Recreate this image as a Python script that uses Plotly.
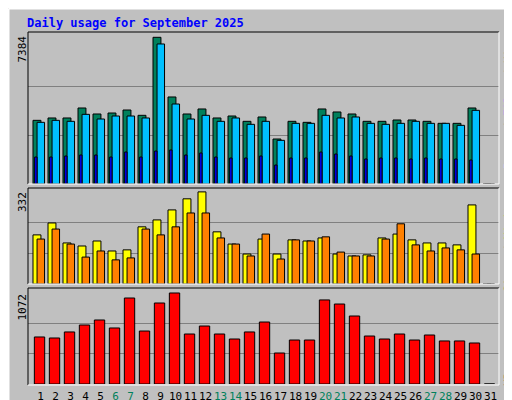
import plotly.graph_objects as go

W, H = 512, 400

days = list(range(1, 32))
hits = [3205, 3323, 3323, 3826, 3524, 3574, 3725, 3457, 7384, 4380,
        3524, 3776, 3323, 3423, 3155, 3373, 2265, 3155, 3104, 3776,
        3625, 3524, 3155, 3155, 3222, 3222, 3155, 3054, 3054, 3826, 0]
files = [3104, 3205, 3155, 3507, 3272, 3423, 3423, 3323, 7048, 4027,
         3272, 3457, 3155, 3323, 3004, 3155, 2198, 3054, 3054, 3457,
         3323, 3373, 3054, 3004, 3054, 3155, 3054, 3054, 2953, 3708, 0]
pages = [1359, 1359, 1410, 1460, 1460, 1359, 1611, 1359, 1661, 1712,
         1460, 1561, 1359, 1309, 1309, 1410, 956, 1309, 1309, 1611,
         1510, 1410, 1259, 1309, 1309, 1259, 1309, 1259, 1259, 1208, 0]
sites = [177, 220, 148, 137, 155, 119, 123, 206, 231, 267,
         307, 332, 188, 144, 108, 162, 108, 159, 155, 166,
         108, 101, 105, 166, 180, 159, 148, 148, 141, 285, 0]
visits = [162, 198, 144, 97, 119, 87, 94, 198, 177, 206,
          256, 256, 166, 144, 101, 180, 90, 159, 155, 170,
          115, 101, 101, 162, 217, 141, 119, 130, 123, 108, 0]
kbytes = [554, 542, 613, 695, 754, 660, 1013, 624, 954, 1072,
          589, 683, 589, 530, 613, 730, 365, 518, 518, 990,
          942, 801, 565, 530, 589, 518, 577, 507, 507, 483, 0]
weekend = [6, 7, 13, 14, 20, 21, 27, 28]

MONO = "DejaVu Sans Mono"
GREEN = "#00805C"

def bars(vals, color, offset, width, xa, ya):
    return go.Bar(x=days, y=vals, offset=offset, width=width, xaxis=xa, yaxis=ya,
                  marker=dict(color=color, line=dict(color="black", width=1)),
                  showlegend=False, hoverinfo="skip")

fig = go.Figure()
fig.add_trace(bars(hits, GREEN, -0.5, 0.53, "x", "y"))
fig.add_trace(bars(files, "#00C0FF", -0.23, 0.5, "x", "y"))
fig.add_trace(bars(pages, "#0000FF", -0.39, 0.16, "x", "y"))
fig.add_trace(bars(sites, "#FFFF00", -0.5, 0.53, "x2", "y2"))
fig.add_trace(bars(visits, "#FF8000", -0.23, 0.5, "x2", "y2"))
fig.add_trace(bars(kbytes, "#FF0000", -0.41, 0.69, "x3", "y3"))

xdom = [20 / W, 491 / W]
xr = [0.167, 31.567]
ticktext = [f"<span style='color:{GREEN}'>{d}</span>" if d in weekend else str(d) for d in days]

def yaxis(dom, top, peak):
    return dict(domain=dom, range=[0, top], tickvals=[peak / 3, peak * 2 / 3],
                showticklabels=False, ticks="", showgrid=True, gridcolor="#808080",
                gridwidth=1, zeroline=False, fixedrange=True)

def xaxis(anchor, labels=False):
    return dict(domain=xdom, range=xr, anchor=anchor, showgrid=False, zeroline=False,
                tickvals=days, ticktext=ticktext, showticklabels=labels, ticks="",
                tickangle=0, ticklabelstandoff=4,
                tickfont=dict(family=MONO, size=11, color="black"), fixedrange=True)

d1 = [224 / H, 376 / H]
d2 = [124 / H, 220 / H]
d3 = [24 / H, 119 / H]

fig.update_layout(
    width=W, height=H, margin=dict(l=0, r=0, t=0, b=0),
    paper_bgcolor="#C0C0C0", plot_bgcolor="#C0C0C0", barmode="overlay",
    xaxis=xaxis("y"), xaxis2=xaxis("y2"), xaxis3=xaxis("y3", True),
    yaxis=yaxis(d1, 7651, 7384), yaxis2=yaxis(d2, 346, 332), yaxis3=yaxis(d3, 1119, 1072),
)

shapes = []
def line(x0, y0, x1, y1, c, w=1):
    shapes.append(dict(type="line", xref="paper", yref="paper", x0=x0 / W, x1=x1 / W,
                       y0=1 - y0 / H, y1=1 - y1 / H, line=dict(color=c, width=w)))

# panel bevels
for top, bot in [(24, 176), (180, 276), (280, 377)]:
    line(20, top, 491, top, "black")
    line(20, top, 20, bot, "black")
    line(20, bot, 491, bot, "white")
    line(491, top, 491, bot, "white")
# outer frame
line(0.5, 0.5, 511.5, 0.5, "white", 2)
line(0.5, 0.5, 0.5, 399.5, "white", 2)
line(0.5, 399.5, 511.5, 399.5, "#808080", 2)
line(511.5, 0.5, 511.5, 399.5, "#808080", 2)
line(4, 396, 508, 396, "#808080", 1)
line(508, 4, 508, 396, "#808080", 1)
fig.update_layout(shapes=shapes)

def ann(text, x, y, angle=0, xa="left", ya="middle", size=11, color="black", bold=False):
    fig.add_annotation(text=text, x=x / W, y=1 - y / H, xref="paper", yref="paper",
                       showarrow=False, textangle=angle, xanchor=xa, yanchor=ya,
                       font=dict(family=MONO, size=size, color=color,
                                 weight="bold" if bold else "normal"))

ann("Daily usage for September 2025", 17, 15, bold=True, color="#0000FF", size=12)
ann("7384", 14, 26, -90, "center", "top", 11)
ann("332", 14, 182, -90, "center", "top", 11)
ann("1072", 14, 284, -90, "center", "top", 11)
sl = "<span style='color:#606060'> / </span>"
ann("<span style='color:#00C0FF'>Pages</span>" + sl + "<span style='color:#0000FF'>Files</span>"
    + sl + f"<span style='color:{GREEN}'>Hits</span>", 500, 95, -90, "center", "middle", 11)
ann("<span style='color:#FF8000'>Sites</span>" + sl + "<span style='color:#FFFF00'>Visits</span>",
    500, 238, -90, "center", "middle", 11)
ann("<span style='color:#FF0000'>KBytes</span>", 500, 358, -90, "center", "middle", 11)

fig.write_html("out.html")
